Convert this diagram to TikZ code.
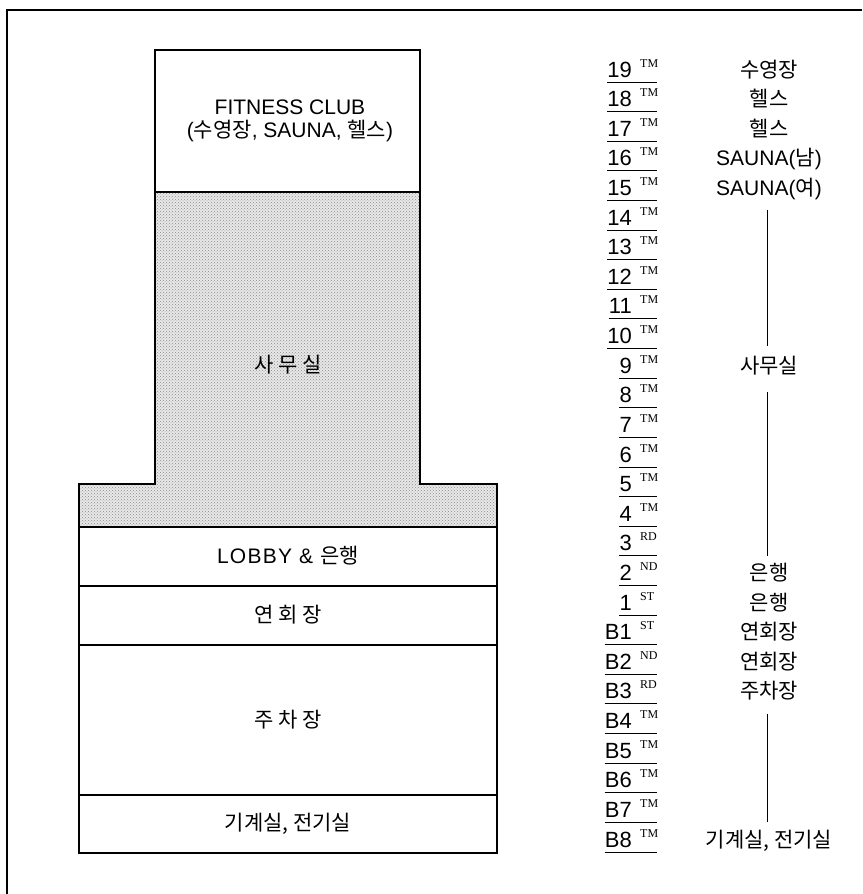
\documentclass[tikz,border=0pt]{standalone}
\usepackage{fontspec}
\usetikzlibrary{patterns}
\setmainfont{Liberation Sans}
\newfontfamily\kr{Noto Sans CJK KR}
\newfontfamily\tmfont{Liberation Serif}
\begin{document}
\begin{tikzpicture}[x=1pt,y=-1pt,
  txt/.style={font=\fontsize{21}{23}\selectfont, inner sep=0pt, align=center},
  numtxt/.style={font=\fontsize{22}{24}\selectfont, inner sep=0pt},
  labtxt/.style={font=\fontsize{21}{23}\selectfont, inner sep=0pt},
  suptxt/.style={font=\tmfont\fontsize{12}{13}\selectfont, inner sep=0pt},
  rule/.style={line width=1pt},
  wall/.style={line width=1.2pt},
  frameline/.style={line width=1.5pt},
  guide/.style={line width=0.8pt}]
\useasboundingbox (0,0) rectangle (862,894);
% outer frame (open at right and bottom)
\coordinate (fl) at (7,894);
\coordinate (fc) at (7,10);
\coordinate (fr) at (862,10);
\draw[frameline] (fl) -- (fc) -- (fr);
% building
\draw[wall] (155,50) rectangle (420,192);
\fill[black!9] (155,192) -- (420,192) -- (420,484) -- (497,484) -- (497,527)
  -- (79,527) -- (79,484) -- (155,484) -- cycle;
\fill[pattern=crosshatch dots, pattern color=black!45] (155,192) -- (420,192) -- (420,484) -- (497,484) -- (497,527)
  -- (79,527) -- (79,484) -- (155,484) -- cycle;
\draw[wall] (155,192) -- (420,192) -- (420,484) -- (497,484) -- (497,527)
  -- (79,527) -- (79,484) -- (155,484) -- cycle;
\draw[wall] (79,527) rectangle (497,586);
\draw[wall] (79,586) rectangle (497,645);
\draw[wall] (79,645) rectangle (497,795);
\draw[wall] (79,795) rectangle (497,853);
\node[txt] (fitness) at (290,121) {FITNESS CLUB\\({\kr 수영장}, SAUNA, {\kr 헬스})};
\node[txt] (office) at (288,365) {\kr 사 무 실};
\node[txt] (lobby) at (288,556) {\addfontfeature{LetterSpace=6}LOBBY \& {\kr 은행}};
\node[txt] (banquet) at (288,615) {\kr 연 회 장};
\node[txt] (parking) at (288,720) {\kr 주 차 장};
\node[txt] (machine) at (288,824) {\kr 기계실, 전기실};
% floor numbers
\foreach \n/\s [count=\i from 0] in {19/TM,18/TM,17/TM,16/TM,15/TM,14/TM,13/TM,12/TM,11/TM,10/TM,9/TM,8/TM,7/TM,6/TM,5/TM,4/TM,3/RD,2/ND,1/ST,B1/ST,B2/ND,B3/RD,B4/TM,B5/TM,B6/TM,B7/TM,B8/TM} {
  \pgfmathsetmacro{\yy}{82+29.615*\i}
  \node[numtxt, anchor=base east] (n\i) at (632,\yy-5) {\n};
  \node[suptxt, anchor=base west] (s\i) at (640,\yy-15) {\s};
  \coordinate (u\i) at (657,\yy);
  \draw[rule] (n\i.west |- u\i) -- (u\i);
}
% floor uses
\foreach \i/\t in {0/{\kr 수영장},1/{\kr 헬스},2/{\kr 헬스},3/{SAUNA({\kr 남})},4/{SAUNA({\kr 여})},10/{\kr 사무실},17/{\kr 은행},18/{\kr 은행},19/{\kr 연회장},20/{\kr 연회장},21/{\kr 주차장},26/{\kr 기계실, 전기실}} {
  \pgfmathsetmacro{\yy}{82+29.615*\i}
  \node[labtxt, anchor=base] (l\i) at (769,\yy-5) {\t};
}
\coordinate (g1a) at (767,210);
\coordinate (g1b) at (767,346);
\coordinate (g2a) at (767,392);
\coordinate (g2b) at (767,556);
\coordinate (g3a) at (767,714);
\coordinate (g3b) at (767,822);
\draw[guide] (g1a) -- (g1b);
\draw[guide] (g2a) -- (g2b);
\draw[guide] (g3a) -- (g3b);
\end{tikzpicture}
\end{document}
